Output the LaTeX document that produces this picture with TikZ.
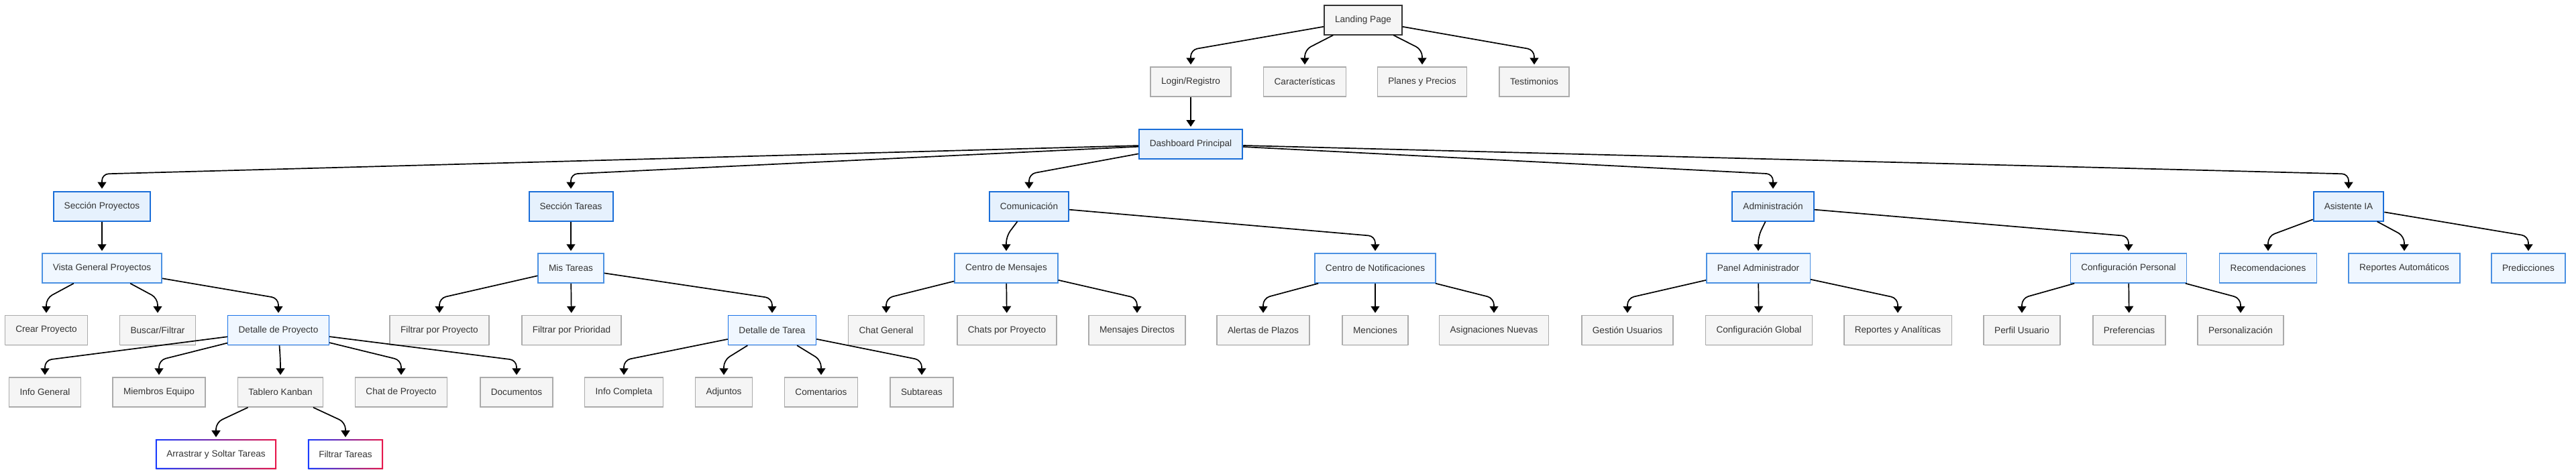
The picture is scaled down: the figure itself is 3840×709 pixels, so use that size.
\documentclass[tikz,border=0pt]{standalone}
\usepackage{fontspec}
\setmainfont{Liberation Sans}
\usepackage{xcolor}
\usetikzlibrary{arrows.meta,shadows}

\definecolor{txtgray}{HTML}{333333}
\definecolor{boxgray}{HTML}{F5F5F5}
\definecolor{leafline}{HTML}{ABABAB}
\definecolor{pageline}{HTML}{333333}
\definecolor{secfill}{HTML}{E6F1FD}
\definecolor{secline}{HTML}{1A6ED8}
\definecolor{subfill}{HTML}{F0F7FF}
\definecolor{subline}{HTML}{4A90E2}
\definecolor{detline}{HTML}{1A73E8}
\definecolor{dragblue}{HTML}{1A3CFF}
\definecolor{dragred}{HTML}{E8174A}

\begin{document}
\begin{tikzpicture}[x=0.5pt,y=-0.5pt,>={Triangle[length=5pt,width=6.5pt]},
  base/.style={rectangle,inner xsep=8pt,inner ysep=2pt,minimum height=22pt,
    font=\fontsize{6.8}{8}\selectfont,text=txtgray,
    drop shadow={shadow xshift=0.2pt,shadow yshift=-0.6pt,opacity=0.1,fill=black}},
  page/.style={base,fill=boxgray,draw=pageline,line width=1pt},
  leaf/.style={base,fill=boxgray,draw=leafline,line width=0.75pt},
  section/.style={base,fill=secfill,draw=secline,line width=1pt},
  subsec/.style={base,fill=subfill,draw=subline,line width=0.75pt},
  detail/.style={base,fill=subfill,draw=detline,line width=0.75pt},
  dragbox/.style={base,fill=white},
  link/.style={->,line width=0.85pt,rounded corners=5pt,shorten >=1.5pt}]
  \useasboundingbox (0,0) rectangle (3840,709);

  % entrada
  \node[page] (land) at (2032,29.5) {Landing Page};
  \node[leaf] (login) at (1775,122) {Login/Registro};
  \node[leaf] (caract) at (1945,122) {Características};
  \node[leaf] (planes) at (2120,122) {Planes y Precios};
  \node[leaf] (testim) at (2287,122) {Testimonios};
  \node[section] (dash) at (1775,215) {Dashboard Principal};

  % secciones
  \node[section] (secproy) at (152,307.5) {Sección Proyectos};
  \node[section] (sectar) at (851,307.5) {Sección Tareas};
  \node[section] (comun) at (1534,307.5) {Comunicación};
  \node[section] (admin) at (2643,307.5) {Administración};
  \node[section] (asist) at (3501,307.5) {Asistente IA};

  % subsecciones
  \node[subsec] (vista) at (152,400) {Vista General Proyectos};
  \node[subsec] (mistar) at (851,400) {Mis Tareas};
  \node[subsec] (cmens) at (1500,400) {Centro de Mensajes};
  \node[subsec] (cnotif) at (2050,400) {Centro de Notificaciones};
  \node[subsec] (panel) at (2621,400) {Panel Administrador};
  \node[subsec] (confp) at (3173,400) {Configuración Personal};
  \node[subsec] (recom) at (3381,400) {Recomendaciones};
  \node[subsec] (repaut) at (3584,400) {Reportes Automáticos};
  \node[subsec] (predic) at (3769,400) {Predicciones};

  % quinta fila
  \node[leaf] (crear) at (69,492.5) {Crear Proyecto};
  \node[leaf] (buscar) at (235,492.5) {Buscar/Filtrar};
  \node[detail] (detproy) at (415,492.5) {Detalle de Proyecto};
  \node[leaf] (filproy) at (655,492.5) {Filtrar por Proyecto};
  \node[leaf] (filprio) at (852,492.5) {Filtrar por Prioridad};
  \node[detail] (dettar) at (1151,492.5) {Detalle de Tarea};
  \node[leaf] (chatg) at (1321,492.5) {Chat General};
  \node[leaf] (chatsp) at (1501,492.5) {Chats por Proyecto};
  \node[leaf] (mensd) at (1695,492.5) {Mensajes Directos};
  \node[leaf] (alert) at (1883,492.5) {Alertas de Plazos};
  \node[leaf] (menc) at (2050,492.5) {Menciones};
  \node[leaf] (asign) at (2227,492.5) {Asignaciones Nuevas};
  \node[leaf] (gestu) at (2426,492.5) {Gestión Usuarios};
  \node[leaf] (confg) at (2622,492.5) {Configuración Global};
  \node[leaf] (repan) at (2829,492.5) {Reportes y Analíticas};
  \node[leaf] (perfil) at (3014,492.5) {Perfil Usuario};
  \node[leaf] (pref) at (3174,492.5) {Preferencias};
  \node[leaf] (perso) at (3340,492.5) {Personalización};

  % sexta fila
  \node[leaf] (infog) at (67,585) {Info General};
  \node[leaf] (miemb) at (237,585) {Miembros Equipo};
  \node[leaf] (kanban) at (418,585) {Tablero Kanban};
  \node[leaf] (chatp) at (598,585) {Chat de Proyecto};
  \node[leaf] (docs) at (770,585) {Documentos};
  \node[leaf] (infoc) at (930,585) {Info Completa};
  \node[leaf] (adj) at (1079,585) {Adjuntos};
  \node[leaf] (coment) at (1224,585) {Comentarios};
  \node[leaf] (subt) at (1374,585) {Subtareas};

  % kanban
  \node[dragbox] (drag) at (322,677.5) {Arrastrar y Soltar Tareas};
  \node[dragbox] (filtar) at (515,677.5) {Filtrar Tareas};
  \shade[left color=dragblue,right color=dragred,even odd rule]
    (drag.south west) rectangle (drag.north east)
    ([shift={(1pt,1pt)}]drag.south west) rectangle ([shift={(-1pt,-1pt)}]drag.north east);
  \shade[left color=dragblue,right color=dragred,even odd rule]
    (filtar.south west) rectangle (filtar.north east)
    ([shift={(1pt,1pt)}]filtar.south west) rectangle ([shift={(-1pt,-1pt)}]filtar.north east);

  % conexiones
  \draw[link] (land) -- ([yshift=12.5pt]login.north) -- (login.north);
  \draw[link] (land) -- ([yshift=12.5pt]caract.north) -- (caract.north);
  \draw[link] (land) -- ([yshift=12.5pt]planes.north) -- (planes.north);
  \draw[link] (land) -- ([yshift=12.5pt]testim.north) -- (testim.north);
  \draw[link] (login) -- (dash);
  \draw[link] (dash) -- ([yshift=12.5pt]secproy.north) -- (secproy.north);
  \draw[link] (dash) -- ([yshift=12.5pt]sectar.north) -- (sectar.north);
  \draw[link] (dash) -- ([yshift=12.5pt]comun.north) -- (comun.north);
  \draw[link] (dash) -- ([yshift=12.5pt]admin.north) -- (admin.north);
  \draw[link] (dash) -- ([yshift=12.5pt]asist.north) -- (asist.north);
  \draw[link] (secproy) -- (vista);
  \draw[link] (vista) -- ([yshift=12.5pt]crear.north) -- (crear.north);
  \draw[link] (vista) -- ([yshift=12.5pt]buscar.north) -- (buscar.north);
  \draw[link] (vista) -- ([yshift=12.5pt]detproy.north) -- (detproy.north);
  \draw[link] (detproy) -- ([yshift=12.5pt]infog.north) -- (infog.north);
  \draw[link] (detproy) -- ([yshift=12.5pt]miemb.north) -- (miemb.north);
  \draw[link] (detproy) -- ([yshift=12.5pt]kanban.north) -- (kanban.north);
  \draw[link] (detproy) -- ([yshift=12.5pt]chatp.north) -- (chatp.north);
  \draw[link] (detproy) -- ([yshift=12.5pt]docs.north) -- (docs.north);
  \draw[link] (kanban) -- ([yshift=12.5pt]drag.north) -- (drag.north);
  \draw[link] (kanban) -- ([yshift=12.5pt]filtar.north) -- (filtar.north);
  \draw[link] (sectar) -- (mistar);
  \draw[link] (mistar) -- ([yshift=12.5pt]filproy.north) -- (filproy.north);
  \draw[link] (mistar) -- (filprio);
  \draw[link] (mistar) -- ([yshift=12.5pt]dettar.north) -- (dettar.north);
  \draw[link] (dettar) -- ([yshift=12.5pt]infoc.north) -- (infoc.north);
  \draw[link] (dettar) -- ([yshift=12.5pt]adj.north) -- (adj.north);
  \draw[link] (dettar) -- ([yshift=12.5pt]coment.north) -- (coment.north);
  \draw[link] (dettar) -- ([yshift=12.5pt]subt.north) -- (subt.north);
  \draw[link] (comun) -- ([yshift=12.5pt]cmens.north) -- (cmens.north);
  \draw[link] (comun) -- ([yshift=12.5pt]cnotif.north) -- (cnotif.north);
  \draw[link] (cmens) -- ([yshift=12.5pt]chatg.north) -- (chatg.north);
  \draw[link] (cmens) -- (chatsp);
  \draw[link] (cmens) -- ([yshift=12.5pt]mensd.north) -- (mensd.north);
  \draw[link] (cnotif) -- ([yshift=12.5pt]alert.north) -- (alert.north);
  \draw[link] (cnotif) -- (menc);
  \draw[link] (cnotif) -- ([yshift=12.5pt]asign.north) -- (asign.north);
  \draw[link] (admin) -- ([yshift=12.5pt]panel.north) -- (panel.north);
  \draw[link] (admin) -- ([yshift=12.5pt]confp.north) -- (confp.north);
  \draw[link] (panel) -- ([yshift=12.5pt]gestu.north) -- (gestu.north);
  \draw[link] (panel) -- (confg);
  \draw[link] (panel) -- ([yshift=12.5pt]repan.north) -- (repan.north);
  \draw[link] (confp) -- ([yshift=12.5pt]perfil.north) -- (perfil.north);
  \draw[link] (confp) -- (pref);
  \draw[link] (confp) -- ([yshift=12.5pt]perso.north) -- (perso.north);
  \draw[link] (asist) -- ([yshift=12.5pt]recom.north) -- (recom.north);
  \draw[link] (asist) -- ([yshift=12.5pt]repaut.north) -- (repaut.north);
  \draw[link] (asist) -- ([yshift=12.5pt]predic.north) -- (predic.north);
\end{tikzpicture}
\end{document}
